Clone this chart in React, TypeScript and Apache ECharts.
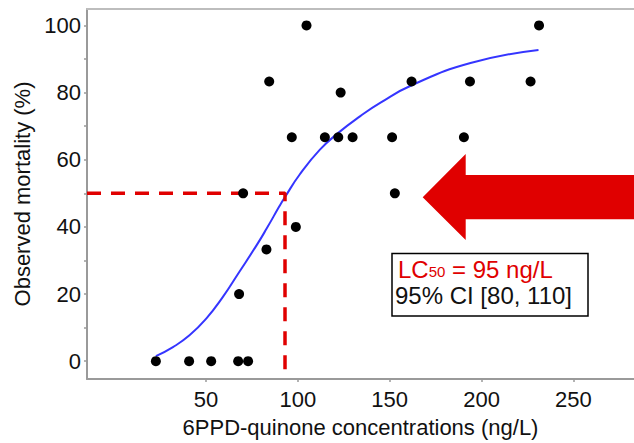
import React, { useEffect, useRef } from "react";
import * as echarts from "echarts";

// Observed points (6PPD-quinone ng/L, mortality %)
const concentrations = [
  22.7, 40.8, 52.8, 67.5, 72.9, 68.0, 82.9, 98.9, 70.2, 152.8, 96.7, 114.7,
  122.0, 129.8, 151.3, 190.4, 123.3, 84.4, 161.9, 193.7, 226.7, 104.7, 231.3,
];
const mortality = [
  0, 0, 0, 0, 0, 20, 33.3, 40, 50, 50, 66.7, 66.7, 66.7, 66.7, 66.7, 66.7, 80,
  83.3, 83.3, 83.3, 83.3, 100, 100,
];

// Fitted dose-response curve
const curveX = [22.7, 32, 41, 50, 59, 68, 77.5, 83, 90, 93, 101, 112, 122, 134, 145, 162, 194, 231];
const curveY = [1.5, 4.2, 7.7, 12.6, 19.0, 26.5, 34.5, 39.5, 46.2, 48.9, 55.6, 63.0, 68.0, 73.0, 77.0, 82.2, 88.8, 92.7];

// LC50 guide
const lc50X = 93;
const halfMortality = 50;

const xTicks = [50, 100, 150, 200, 250];
const yLabels = [0, 20, 40, 60, 80, 100];
const yTicks = [0, 10, 20, 30, 40, 50, 60, 70, 80, 90, 100];

const X_MIN = -14.8;
const X_MAX = 283;
const Y_MIN = -5.3;
const Y_MAX = 104.9;

const FONT = "'Liberation Sans', Arial, Helvetica, sans-serif";
const RED = "#e00000";
const AXIS_GRAY = "#9a9a9a";

export default function App() {
  const ref = useRef<HTMLDivElement>(null);
  useEffect(() => {
    const chart = echarts.init(ref.current!, null, { renderer: "svg" });
    chart.setOption({
      animation: false,
      backgroundColor: "#fff",
      textStyle: { fontFamily: FONT },
      grid: { left: 87, right: 0, top: 9, bottom: 60, containLabel: false },
      xAxis: [
        {
          type: "value",
          position: "bottom",
          min: X_MIN,
          max: X_MAX,
          name: "6PPD-quinone concentrations (ng/L)",
          nameLocation: "middle",
          nameGap: 37,
          nameTextStyle: { fontSize: 22, color: "#111", fontFamily: FONT },
          axisLine: { show: true, onZero: false, lineStyle: { color: AXIS_GRAY, width: 2 } },
          axisTick: { show: true, length: 3, customValues: xTicks, lineStyle: { color: AXIS_GRAY, width: 1.5 } },
          axisLabel: { customValues: xTicks, fontSize: 22, color: "#111", margin: 9, fontFamily: FONT },
          splitLine: { show: false },
        },
        {
          type: "value",
          position: "top",
          min: X_MIN,
          max: X_MAX,
          axisLine: { show: true, onZero: false, lineStyle: { color: "#bdbdbd", width: 2 } },
          axisTick: { show: false },
          axisLabel: { show: false },
          splitLine: { show: false },
        },
      ],
      yAxis: {
        type: "value",
        min: Y_MIN,
        max: Y_MAX,
        name: "Observed mortality (%)",
        nameLocation: "middle",
        nameGap: 41,
        nameRotate: 90,
        nameTextStyle: { fontSize: 22, color: "#111", fontFamily: FONT },
        axisLine: { show: true, onZero: false, lineStyle: { color: AXIS_GRAY, width: 2 } },
        axisTick: { show: true, length: 3, customValues: yTicks, lineStyle: { color: AXIS_GRAY, width: 1.5 } },
        axisLabel: { customValues: yLabels, fontSize: 22, color: "#111", margin: 6, fontFamily: FONT },
        splitLine: { show: false },
      },
      series: [
        {
          type: "line",
          data: curveX.map((x, i) => [x, curveY[i]]),
          smooth: 0.5,
          showSymbol: false,
          symbol: "none",
          lineStyle: { color: "#3535ff", width: 2 },
          z: 2,
        },
        {
          type: "line",
          data: [
            [X_MIN, halfMortality],
            [lc50X, halfMortality],
            [lc50X, Y_MIN],
          ],
          showSymbol: false,
          symbol: "none",
          lineStyle: { color: RED, width: 3.5, type: [14, 10] },
          z: 3,
        },
        {
          type: "scatter",
          data: concentrations.map((x, i) => [x, mortality[i]]),
          symbolSize: 10,
          itemStyle: { color: "#000", opacity: 1 },
          z: 4,
        },
      ],
      graphic: [
        {
          type: "polygon",
          shape: {
            points: [
              [422.7, 197.3],
              [465.7, 154],
              [465.7, 175],
              [634, 175],
              [634, 219.3],
              [465.7, 219.3],
              [465.7, 240],
            ],
          },
          style: { fill: RED },
          z: 10,
        },
        {
          type: "rect",
          shape: { x: 392, y: 253.5, width: 196, height: 62.5 },
          style: { fill: "#fff", stroke: "#000", lineWidth: 1.5 },
          z: 10,
        },
        {
          type: "text",
          x: 398,
          y: 269,
          style: {
            text: "{a|LC}{s|50}{a| = 95 ng/L}",
            verticalAlign: "middle",
            rich: {
              a: { fontSize: 24, lineHeight: 20, fill: RED, fontFamily: FONT },
              s: { fontSize: 15, lineHeight: 8, fill: RED, fontFamily: FONT, verticalAlign: "bottom" },
            },
          },
          z: 11,
        },
        {
          type: "text",
          x: 395,
          y: 295.5,
          style: {
            text: "95% CI [80, 110]",
            fontSize: 24,
            lineHeight: 20,
            fill: "#111",
            fontFamily: FONT,
            verticalAlign: "middle",
          },
          z: 11,
        },
      ],
    });
    return () => chart.dispose();
  }, []);
  return (
    <div
      ref={ref}
      style={{ position: "absolute", left: 0, top: 0, width: 634, height: 443, background: "#fff" }}
    />
  );
}
